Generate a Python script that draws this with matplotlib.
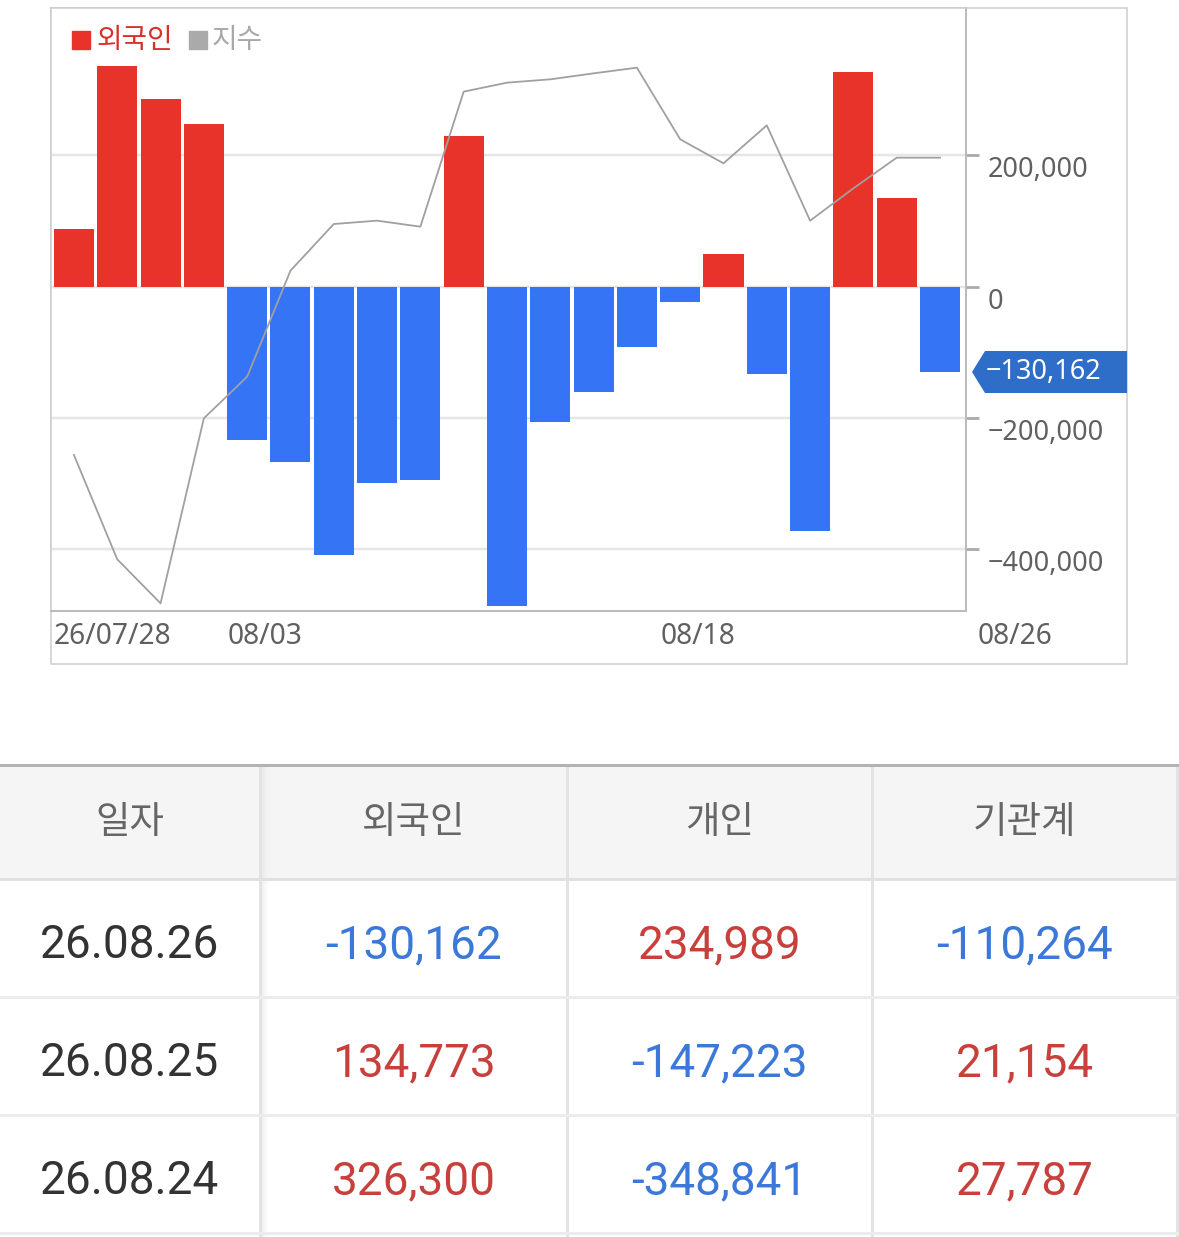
import matplotlib
matplotlib.use('Agg')
import matplotlib.pyplot as plt
from matplotlib.patches import Rectangle, Polygon
from matplotlib.transforms import blended_transform_factory, ScaledTranslation
import numpy as np

# chart data (foreign net buying, index)
dates = ['07/28', '07/29', '07/30', '07/31', '08/03', '08/04', '08/05', '08/06',
         '08/07', '08/10', '08/11', '08/12', '08/13', '08/14', '08/18', '08/19',
         '08/20', '08/21', '08/24', '08/25', '08/26']
foreign = [87000, 335000, 285000, 248000, -234000, -267000, -409000, -299000,
           -294000, 229000, -487000, -207000, -161000, -92000, -23000, 50000,
           -133000, -372000, 326300, 134773, -130162]
index_vals = [2615.9, 2584.6, 2571.4, 2626.9, 2639.4, 2671.2, 2685.2, 2686.2,
              2684.4, 2724.9, 2727.6, 2728.6, 2730.4, 2732.1, 2710.6, 2703.4,
              2714.8, 2686.2, 2695.9, 2705.1, 2705.1]
y_ticks = [-400000, -200000, 0, 200000]
x_labels = {0: '26/07/28', 4: '08/03', 14: '08/18'}
last_label = '08/26'

# table data
headers = ['일자', '외국인', '개인', '기관계']
t_dates = ['26.08.26', '26.08.25', '26.08.24']
t_foreign = [-130162, 134773, 326300]
t_indiv = [234989, -147223, -348841]
t_inst = [-110264, 21154, 27787]

RED = '#e8332b'
BLUE = '#3575f5'
TXT_RED = '#c8403c'
TXT_BLUE = '#3c78d8'

W, H = 1179, 1237
fig = plt.figure(figsize=(W / 100, H / 100), dpi=100)


def px(x0, y0, x1, y1):
    return [x0 / W, 1 - y1 / H, (x1 - x0) / W, (y1 - y0) / H]


def lw(p):
    return p * 0.72


# background layer in pixel coords
bg = fig.add_axes([0, 0, 1, 1], zorder=0)
bg.set_xlim(0, W)
bg.set_ylim(H, 0)
bg.axis('off')

# overlay layer (legend, badge) on top of chart
top = fig.add_axes([0, 0, 1, 1], zorder=5)
top.set_xlim(0, W)
top.set_ylim(H, 0)
top.axis('off')
top.patch.set_visible(False)

# outer chart frame
bg.add_patch(Rectangle((51, 8), 1127 - 51, 664 - 8, fill=False,
                       edgecolor='#cccccc', linewidth=lw(1.5)))

# --- chart ---
ax = fig.add_axes(px(51, 8, 966, 611), zorder=1)
x = np.arange(len(foreign))
colors = [RED if v > 0 else BLUE for v in foreign]
ax.bar(x, foreign, width=0.924, color=colors, zorder=2)
ax.set_xlim(-0.53, 20.6)
ax.set_ylim(-494000, 424000)

ax2 = ax.twinx()
ax2.plot(x, index_vals, color='#a0a0a0', linewidth=lw(1.8), zorder=3)
ax2.set_ylim(2569.1, 2750)
ax2.axis('off')

ax.yaxis.tick_right()
ax.set_yticks(y_ticks)
ax.set_yticklabels([])
ax.tick_params(axis='y', which='both', left=False, right=True, length=9, width=2,
               color='#aaaaaa', direction='out')
ax.tick_params(axis='x', length=0, labelbottom=False)
ax.set_xticks([])
ax.grid(axis='y', color='#e6e6e6', linewidth=lw(2.5), zorder=0)
ax.set_axisbelow(True)
for s in ['top', 'left']:
    ax.spines[s].set_color('#cccccc')
    ax.spines[s].set_linewidth(lw(1.5))
for s in ['right', 'bottom']:
    ax.spines[s].set_color('#bbbbbb')
    ax.spines[s].set_linewidth(lw(2))

tick_font = dict(family='Noto Sans', fontsize=19.5, color='#606060')


def fmt(v):
    return f'{v:,}'.replace('-', '\u2212')


ytr = blended_transform_factory(ax.transAxes, ax.transData)
for v in y_ticks:
    ax.text(1.0, v, fmt(v), transform=ytr + ScaledTranslation(0.22, -0.15, fig.dpi_scale_trans),
            ha='left', va='center', **tick_font)

xfont = dict(tick_font, fontsize=20.3)
xtr = blended_transform_factory(ax.transData, ax.transAxes)
for i, lab in x_labels.items():
    ax.text(i - 0.462, 0, lab, transform=xtr + ScaledTranslation(0, -0.25, fig.dpi_scale_trans),
            ha='left', va='center', **xfont)
ax.text(1.0, 0, last_label, transform=ax.transAxes + ScaledTranslation(0.12, -0.25, fig.dpi_scale_trans),
        ha='left', va='center', **xfont)

# last value badge
fig.canvas.draw()
yc = H - ax.transData.transform((0, foreign[-1]))[1]
top.add_patch(Polygon([(972, yc), (985, yc - 21), (1127, yc - 21), (1127, yc + 21), (985, yc + 21)],
                      closed=True, facecolor='#2f6ec8', edgecolor='none', zorder=3))
top.text(986, yc, fmt(foreign[-1]), ha='left', va='center', family='Noto Sans',
         fontsize=19.5, color='white', zorder=4)

# legend
kr = ['Noto Sans CJK KR', 'DejaVu Sans']
top.add_patch(Rectangle((72, 31), 18, 18, color=RED, zorder=3))
top.text(96, 40, '외국인', ha='left', va='center', family=kr, fontsize=20, color='#d6322b', zorder=4)
top.add_patch(Rectangle((189, 31), 18, 18, color='#aaaaaa', zorder=3))
top.text(212, 40, '지수', ha='left', va='center', family=kr, fontsize=20, color='#a8a8a8', zorder=4)

# --- table ---
col_edges = [0, 260, 567, 872, 1177]
col_centers = [(a + b) / 2 for a, b in zip(col_edges[:-1], col_edges[1:])]
head_top, head_bot = 766, 879
row_tops = [880, 998, 1116]
row_h = 117

bg.add_patch(Rectangle((0, head_top), W, head_bot - head_top, color='#f5f5f5', zorder=1))
# shadow right of first column
for k in range(10):
    bg.add_patch(Rectangle((261 + k, head_top), 1, 1237 - head_top, color='#dcdcdc',
                           alpha=0.5 * (1 - k / 10) ** 2, linewidth=0, zorder=2))
for xe in col_edges[1:]:
    bg.plot([xe, xe], [head_top, 1237], color='#e3e3e3', linewidth=lw(3), zorder=2)
bg.plot([0, W], [765, 765], color='#b3b3b3', linewidth=lw(3), zorder=3)
bg.plot([0, W], [head_bot, head_bot], color='#e0e0e0', linewidth=lw(3), zorder=3)
for rt in row_tops[1:] + [row_tops[-1] + row_h + 1]:
    bg.plot([0, W], [rt - 1, rt - 1], color='#ececec', linewidth=lw(3), zorder=3)

for cx, hd in zip(col_centers, headers):
    bg.text(cx, 822, hd, ha='center', va='center', family=kr, fontsize=27, color='#666666', zorder=4)


def val_color(v):
    return TXT_RED if v > 0 else TXT_BLUE


num_font = dict(family='Roboto', fontsize=33, ha='center', va='baseline', zorder=4)
for r, rt in enumerate(row_tops):
    base = rt + 78
    bg.text(col_centers[0], base, t_dates[r], color='#333333', **num_font)
    for c, vals in enumerate([t_foreign, t_indiv, t_inst]):
        v = vals[r]
        bg.text(col_centers[c + 1], base, f'{v:,}', color=val_color(v), **num_font)

fig.savefig('out.png', dpi=100)
